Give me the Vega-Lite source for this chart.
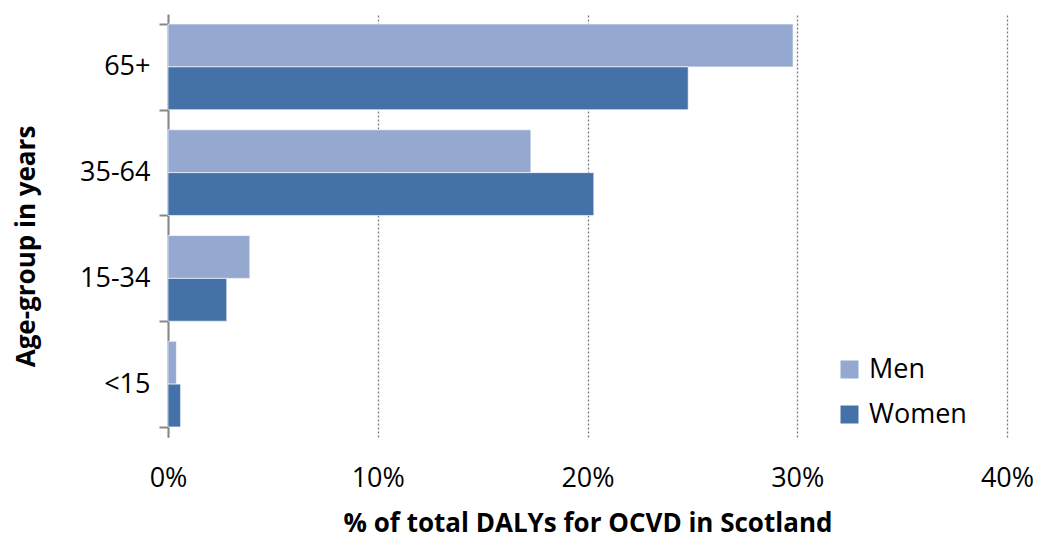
{
  "$schema": "https://vega.github.io/schema/vega-lite/v6.json",
  "width": 839,
  "height": 423,
  "autosize": "none",
  "padding": {"left": 168, "top": 14, "right": 30, "bottom": 103},
  "background": "white",
  "data": {
    "values": [
      {"age": "65+", "sex": "Men", "value": 29.8},
      {"age": "65+", "sex": "Women", "value": 24.8},
      {"age": "35-64", "sex": "Men", "value": 17.3},
      {"age": "35-64", "sex": "Women", "value": 20.3},
      {"age": "15-34", "sex": "Men", "value": 3.9},
      {"age": "15-34", "sex": "Women", "value": 2.8},
      {"age": "<15", "sex": "Men", "value": 0.4},
      {"age": "<15", "sex": "Women", "value": 0.6}
    ]
  },
  "config": {
    "font": "Open Sans",
    "view": {"stroke": null}
  },
  "mark": {"type": "bar", "stroke": "white", "strokeWidth": 1, "strokeOpacity": 0.6},
  "encoding": {
    "y": {
      "field": "age",
      "type": "nominal",
      "sort": ["65+", "35-64", "15-34", "<15"],
      "scale": {"paddingInner": 0.19, "paddingOuter": 0.095},
      "axis": {
        "title": "Age-group in years",
        "titleFontSize": 26,
        "titleFontWeight": "bold",
        "titleColor": "black",
        "titlePadding": 40,
        "titleY": 232,
        "labelFontSize": 27,
        "labelColor": "black",
        "labelPadding": 9,
        "tickBand": "extent",
        "tickSize": 9,
        "tickColor": "#868686",
        "tickWidth": 2,
        "domainColor": "#868686",
        "domainWidth": 2
      }
    },
    "yOffset": {"field": "sex", "type": "nominal", "sort": ["Men", "Women"]},
    "x": {
      "field": "value",
      "type": "quantitative",
      "scale": {"domain": [0, 40]},
      "axis": {
        "title": "% of total DALYs for OCVD in Scotland",
        "titleFontSize": 26,
        "titleFontWeight": "bold",
        "titleColor": "black",
        "titlePadding": 19,
        "values": [0, 10, 20, 30, 40],
        "labelExpr": "datum.value + '%'",
        "labelFontSize": 27,
        "labelColor": "black",
        "labelPadding": 28,
        "labelFlush": false,
        "ticks": false,
        "domain": false,
        "grid": true,
        "gridColor": "#7a7a7a",
        "gridDash": [2, 2],
        "gridWidth": 1.3
      }
    },
    "color": {
      "field": "sex",
      "type": "nominal",
      "sort": ["Men", "Women"],
      "scale": {"domain": ["Men", "Women"], "range": ["#95A9D0", "#4472A8"]},
      "legend": {
        "title": null,
        "orient": "none",
        "legendX": 668,
        "legendY": 342,
        "symbolType": "square",
        "symbolSize": 324,
        "symbolStrokeWidth": 0,
        "symbolOpacity": 1,
        "labelFontSize": 27,
        "labelColor": "black",
        "labelOffset": 6,
        "rowPadding": 17
      }
    }
  }
}
